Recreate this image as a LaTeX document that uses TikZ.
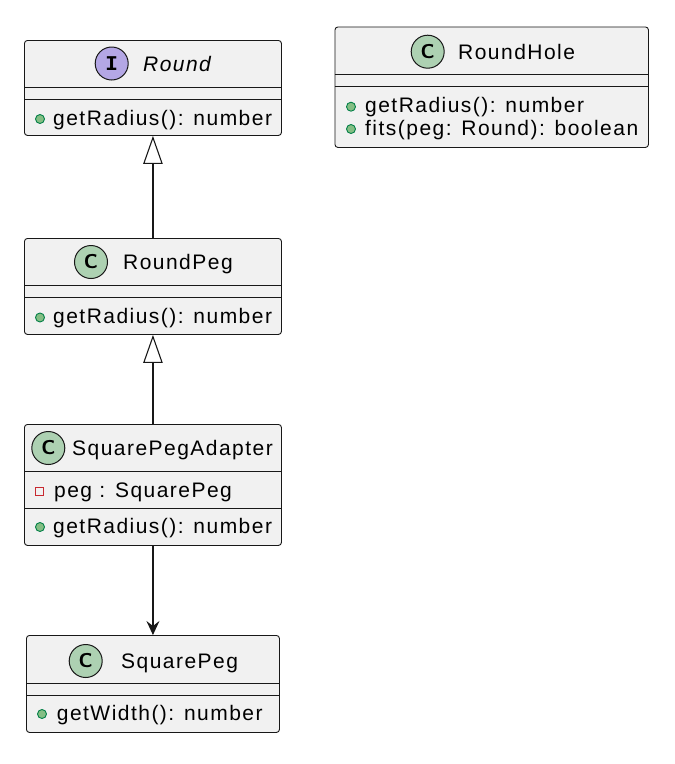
\documentclass[tikz,border=0pt]{standalone}
\usepackage{fontspec}
\usetikzlibrary{arrows.meta}
\newfontfamily\umlfont{Liberation Sans}[LetterSpace=7]
\newfontfamily\umlmono{Liberation Mono}
\definecolor{bordc}{HTML}{181818}
\definecolor{boxc}{HTML}{F1F1F1}
\definecolor{classc}{HTML}{ADD1B2}
\definecolor{intfc}{HTML}{B4A7E5}
\definecolor{pubfill}{HTML}{84BE84}
\definecolor{pubdraw}{HTML}{038048}
\definecolor{privc}{HTML}{C82930}
\tikzset{
  classbox/.style={draw=bordc, fill=boxc, line width=0.9, rounded corners=3, anchor=north west, inner sep=0},
  sepline/.style={draw=bordc, line width=0.9},
  utext/.style={inner sep=0, anchor=base west, text=black, font=\umlfont\fontsize{21}{25}\selectfont},
  itext/.style={utext, font=\umlfont\itshape\fontsize{21}{25}\selectfont},
  kindc/.style={circle, draw=bordc, line width=1, fill=classc, minimum size=33, inner sep=0, font=\sffamily\bfseries\fontsize{20}{20}\selectfont},
  kindi/.style={kindc, fill=intfc, font=\umlmono\bfseries\fontsize{21}{21}\selectfont},
  pubdot/.style={circle, draw=pubdraw, fill=pubfill, line width=0.9, minimum size=9, inner sep=0},
  privsq/.style={rectangle, draw=privc, line width=1.3, minimum size=8, inner sep=0},
  gen/.style={draw=bordc, line width=1.1, -{Triangle[open, length=28, width=19.4, line width=1.1]}},
  assoc/.style={draw=bordc, line width=1.1, -{Stealth[length=14, width=13, inset=5]}}
}
\begin{document}
\begin{tikzpicture}[x=1pt, y=-1pt]
\useasboundingbox (0,0) rectangle (675,764);

% Round (interface)
\node[classbox, minimum width=257, minimum height=95] (round) at (24,40) {};
\draw[sepline] ([yshift=-47]round.north west) -- ([yshift=-47]round.north east);
\draw[sepline] ([yshift=-59]round.north west) -- ([yshift=-59]round.north east);
\node[kindi] (roundk) at (111.7,63.5) {I};
\node[itext] (roundt) at (143,71) {Round};
\node[pubdot] (roundd) at (40,119) {};
\node[utext] (roundm) at (53,125) {getRadius(): number};

% RoundHole
\node[classbox, minimum width=313.5, minimum height=120.5] (hole) at (334.5,26.5) {};
\draw[sepline] ([yshift=-47.5]hole.north west) -- ([yshift=-47.5]hole.north east);
\draw[sepline] ([yshift=-59.5]hole.north west) -- ([yshift=-59.5]hole.north east);
\node[kindc] (holek) at (427.7,51.7) {C};
\node[utext] (holet) at (458,59.2) {RoundHole};
\node[pubdot] (holed1) at (351,106.7) {};
\node[utext] (holem1) at (365,112.7) {getRadius(): number};
\node[pubdot] (holed2) at (351,129) {};
\node[utext] (holem2) at (365,135) {fits(peg: Round): boolean};

% RoundPeg
\node[classbox, minimum width=257, minimum height=96] (peg) at (24,238) {};
\draw[sepline] ([yshift=-47.5]peg.north west) -- ([yshift=-47.5]peg.north east);
\draw[sepline] ([yshift=-59.5]peg.north west) -- ([yshift=-59.5]peg.north east);
\node[kindc] (pegk) at (91,262) {C};
\node[utext] (pegt) at (123,269.5) {RoundPeg};
\node[pubdot] (pegd) at (40,317.5) {};
\node[utext] (pegm) at (53,323.5) {getRadius(): number};

% SquarePegAdapter
\node[classbox, minimum width=257, minimum height=121] (adapter) at (24,424) {};
\draw[sepline] ([yshift=-47.5]adapter.north west) -- ([yshift=-47.5]adapter.north east);
\draw[sepline] ([yshift=-84]adapter.north west) -- ([yshift=-84]adapter.north east);
\node[kindc] (adapterk) at (48.3,448) {C};
\node[utext] (adaptert) at (72,455.5) {SquarePegAdapter};
\node[privsq] (adapters) at (39.3,491.7) {};
\node[utext] (adaptera) at (54,497) {peg : SquarePeg};
\node[pubdot] (adapterd) at (40,527) {};
\node[utext] (adapterm) at (53,533) {getRadius(): number};

% SquarePeg
\node[classbox, minimum width=253, minimum height=97] (square) at (26,635) {};
\draw[sepline] ([yshift=-48.3]square.north west) -- ([yshift=-48.3]square.north east);
\draw[sepline] ([yshift=-60.7]square.north west) -- ([yshift=-60.7]square.north east);
\node[kindc] (squarek) at (85.7,661) {C};
\node[utext] (squaret) at (121,668.5) {SquarePeg};
\node[pubdot] (squared) at (42,714) {};
\node[utext] (squarem) at (56.7,720) {getWidth(): number};

% connectors
\draw[gen] (peg.north) -- (round.south);
\draw[gen] (adapter.north) -- (peg.south);
\draw[assoc] (adapter.south) -- (square.north);
\end{tikzpicture}
\end{document}
